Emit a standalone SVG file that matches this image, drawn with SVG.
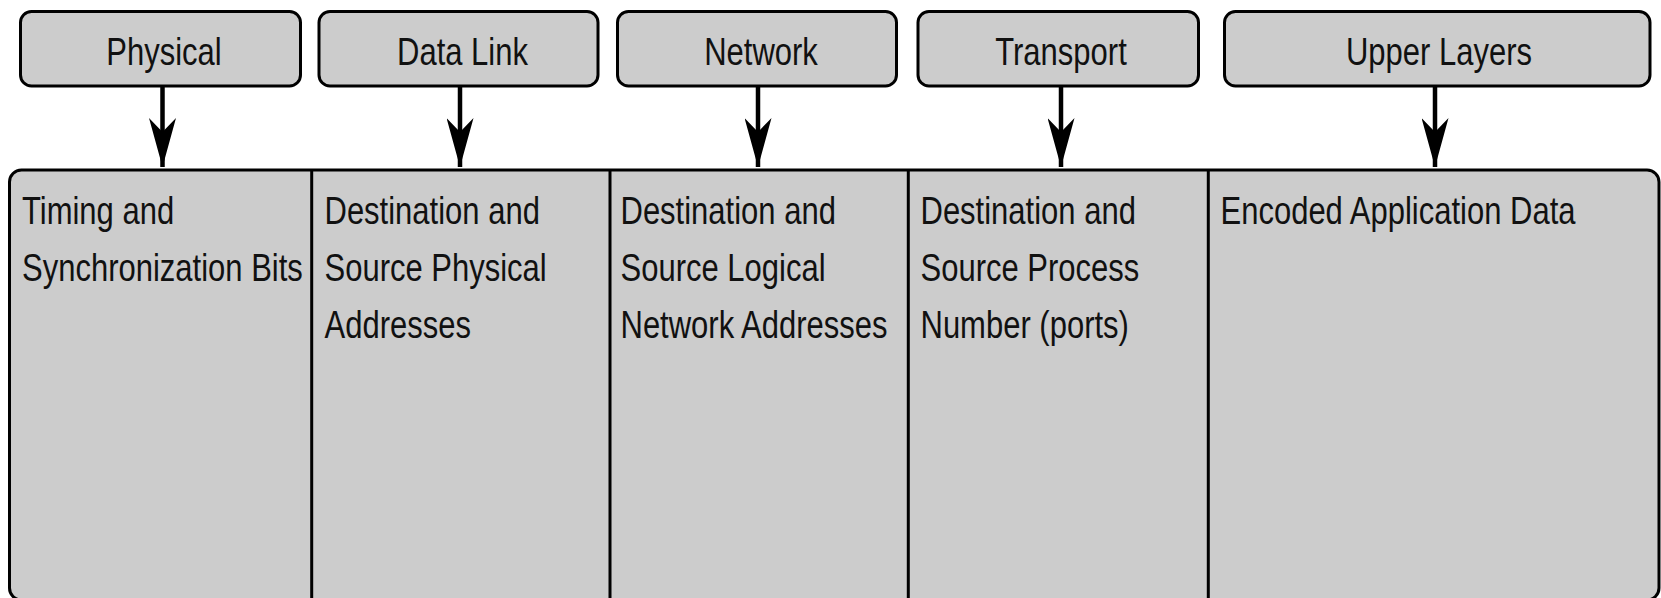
<svg xmlns="http://www.w3.org/2000/svg" width="1661" height="598" viewBox="0 0 1661 598">
  <style>
    .box { fill: #cccccc; stroke: #000; stroke-width: 3; }
    .div { stroke: #000; stroke-width: 3; }
    .lbl { font-family: "Liberation Sans", Arial, Helvetica, sans-serif; font-size: 39px; fill: #111; }
    .mid { text-anchor: middle; }
    .conn { stroke: #000; stroke-width: 4.5; fill: none; marker-end: url(#head); }
  </style>
  <defs>
    <marker id="head" markerUnits="userSpaceOnUse" viewBox="0 0 49 27" refX="49" refY="13.5" markerWidth="49" markerHeight="27" orient="auto">
      <path d="M49,13.5 L0,0 L14,13.5 L0,27 Z" fill="#000"/>
    </marker>
  </defs>
  <rect width="1661" height="598" fill="#fff"/>

  <!-- frame: one wide container split into five fields -->
  <g id="frame">
    <rect class="box" x="9.5" y="170" width="1649.5" height="430" rx="12"/>
    <line class="div" x1="311.7" y1="170" x2="311.7" y2="600"/>
    <line class="div" x1="610" y1="170" x2="610" y2="600"/>
    <line class="div" x1="908.3" y1="170" x2="908.3" y2="600"/>
    <line class="div" x1="1208.3" y1="170" x2="1208.3" y2="600"/>
  </g>

  <g id="field-physical">
    <text class="lbl" transform="translate(22,224) scale(0.795,1)">Timing and<tspan x="0" dy="57">Synchronization Bits</tspan></text>
  </g>
  <g id="field-datalink">
    <text class="lbl" transform="translate(324.5,224) scale(0.795,1)">Destination and<tspan x="0" dy="57">Source Physical</tspan><tspan x="0" dy="57">Addresses</tspan></text>
  </g>
  <g id="field-network">
    <text class="lbl" transform="translate(620.5,224) scale(0.795,1)">Destination and<tspan x="0" dy="57">Source Logical</tspan><tspan x="0" dy="57">Network Addresses</tspan></text>
  </g>
  <g id="field-transport">
    <text class="lbl" transform="translate(920.5,224) scale(0.795,1)">Destination and<tspan x="0" dy="57">Source Process</tspan><tspan x="0" dy="57">Number (ports)</tspan></text>
  </g>
  <g id="field-upper">
    <text class="lbl" transform="translate(1220.5,224) scale(0.795,1)">Encoded Application Data</text>
  </g>

  <!-- layer boxes -->
  <g id="layer-physical">
    <rect class="box" x="20.5" y="11.5" width="280" height="74.5" rx="11"/>
    <text class="lbl mid" transform="translate(164,65) scale(0.795,1)">Physical</text>
  </g>
  <g id="layer-datalink">
    <rect class="box" x="319" y="11.5" width="279" height="74.5" rx="11"/>
    <text class="lbl mid" transform="translate(462.5,65) scale(0.795,1)">Data Link</text>
  </g>
  <g id="layer-network">
    <rect class="box" x="617.5" y="11.5" width="279" height="74.5" rx="11"/>
    <text class="lbl mid" transform="translate(761,65) scale(0.795,1)">Network</text>
  </g>
  <g id="layer-transport">
    <rect class="box" x="918" y="11.5" width="280.5" height="74.5" rx="11"/>
    <text class="lbl mid" transform="translate(1061,65) scale(0.795,1)">Transport</text>
  </g>
  <g id="layer-upper">
    <rect class="box" x="1224.5" y="11.5" width="425.5" height="74.5" rx="11"/>
    <text class="lbl mid" transform="translate(1439,65) scale(0.795,1)">Upper Layers</text>
  </g>

  <!-- connectors -->
  <g id="connectors">
    <line class="conn" x1="162.5" y1="87" x2="162.5" y2="167"/>
    <line class="conn" x1="460" y1="87" x2="460" y2="167"/>
    <line class="conn" x1="758" y1="87" x2="758" y2="167"/>
    <line class="conn" x1="1061" y1="87" x2="1061" y2="167"/>
    <line class="conn" x1="1435" y1="87" x2="1435" y2="167"/>
  </g>
</svg>
